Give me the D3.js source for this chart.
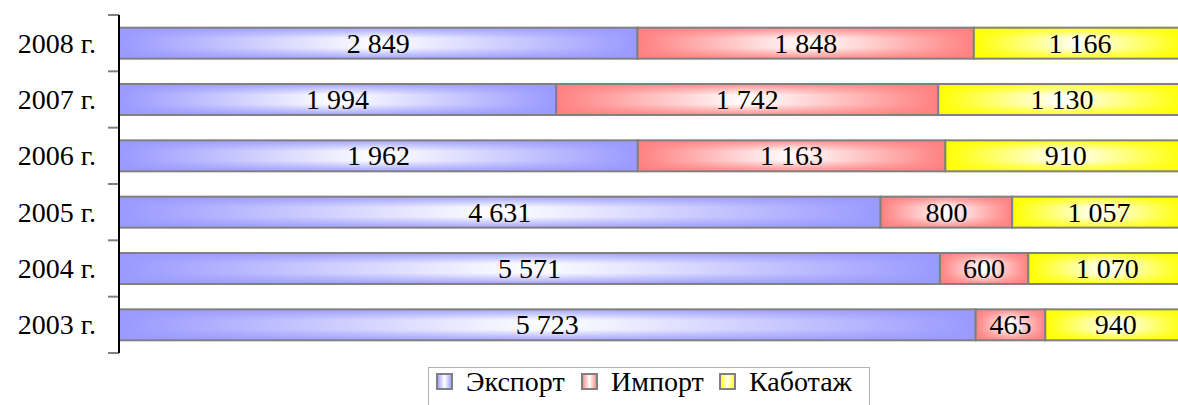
<!DOCTYPE html>
<html>
<head>
<meta charset="utf-8">
<script src="https://cdn.jsdelivr.net/npm/d3@7"></script>
</head>
<body style="margin:0; background:#fff; font-family:'Liberation Serif'">
<div id="chart" style="position:relative; width:1178px; height:405px; overflow:hidden; font-family:'Liberation Serif'; font-size:28px"></div>
<script>
'use strict';

let years = ['2008 г.', '2007 г.', '2006 г.', '2005 г.', '2004 г.', '2003 г.'];
let seriesNames = ['Экспорт', 'Импорт', 'Каботаж'];
let exportValues = [2849, 1994, 1962, 4631, 5571, 5723];
let importValues = [1848, 1742, 1163, 800, 600, 465];
let cabotageValues = [1166, 1130, 910, 1057, 1070, 940];
let seriesColors = ['#9999ff', '#ff8080', '#ffff00'];

let width = 1178;
let height = 405;
let labelStyle = "position:absolute; font-family:'Liberation Serif'; font-size:28px; white-space:nowrap; color:#000;";

let rows = years.map((y, i) => ({
    year: y,
    'Экспорт': exportValues[i],
    'Импорт': importValues[i],
    'Каботаж': cabotageValues[i]
}));

let chart = d3.select('#chart');
let svg = chart.append('svg')
    .attr('width', width)
    .attr('height', height)
    .style('position', 'absolute')
    .style('left', '0px')
    .style('top', '0px');

let defs = svg.append('defs');
seriesColors.forEach((c, i) => {
    let h = defs.append('linearGradient')
        .attr('id', 'gh' + i)
        .attr('x1', 0).attr('x2', 1).attr('y1', 0).attr('y2', 0);
    h.append('stop').attr('offset', '0%').attr('stop-color', c);
    h.append('stop').attr('offset', '50%').attr('stop-color', '#fff');
    h.append('stop').attr('offset', '100%').attr('stop-color', c);

    let v = defs.append('linearGradient')
        .attr('id', 'gv' + i)
        .attr('x1', 0).attr('x2', 0).attr('y1', 0).attr('y2', 1);
    v.append('stop').attr('offset', '0%').attr('stop-color', c).attr('stop-opacity', 0.9);
    v.append('stop').attr('offset', '35%').attr('stop-color', c).attr('stop-opacity', 0);
    v.append('stop').attr('offset', '65%').attr('stop-color', c).attr('stop-opacity', 0);
    v.append('stop').attr('offset', '100%').attr('stop-color', c).attr('stop-opacity', 0.9);
});

let x = d3.scaleLinear().domain([0, 1]).range([119, 1186]);
let y = d3.scaleBand().domain(years).range([15, 353]).paddingInner(0.45).paddingOuter(0.225);

let stacked = d3.stack().keys(seriesNames).offset(d3.stackOffsetExpand)(rows);

let ru = d3.formatLocale({ decimal: ',', thousands: '\u00a0', grouping: [3], currency: ['', ''] });
let fmt = ru.format(',d');

// bars + value labels
stacked.forEach((layer, si) => {
    let seg = svg.append('g').selectAll('g')
        .data(layer)
        .enter()
        .append('g');

    seg.append('rect')
        .attr('x', d => x(d[0]))
        .attr('y', d => y(d.data.year))
        .attr('width', d => x(d[1]) - x(d[0]))
        .attr('height', y.bandwidth())
        .attr('fill', 'url(#gh' + si + ')');

    seg.append('rect')
        .attr('x', d => x(d[0]))
        .attr('y', d => y(d.data.year))
        .attr('width', d => x(d[1]) - x(d[0]))
        .attr('height', y.bandwidth())
        .attr('fill', 'url(#gv' + si + ')')
        .attr('stroke', '#808080')
        .attr('stroke-width', 2);

    chart.selectAll(null)
        .data(layer)
        .enter()
        .append('div')
        .attr('style', d => labelStyle +
            'left:' + x(d[0]) + 'px; width:' + (x(d[1]) - x(d[0])) + 'px;' +
            'top:' + y(d.data.year) + 'px; height:' + y.bandwidth() + 'px;' +
            'line-height:' + y.bandwidth() + 'px; text-align:center;')
        .text(d => fmt(d.data[seriesNames[si]]));
});

// y axis
let boundaries = [15].concat(years.map(d => y(d) + y.step() * (1 - y.paddingInner() / 2)));
svg.append('g').selectAll('line')
    .data(boundaries)
    .enter()
    .append('line')
    .attr('x1', 108).attr('x2', 119)
    .attr('y1', d => d).attr('y2', d => d)
    .attr('stroke', '#808080')
    .attr('stroke-width', 2);

svg.append('line')
    .attr('x1', 119).attr('x2', 119)
    .attr('y1', 15).attr('y2', 353)
    .attr('stroke', '#000')
    .attr('stroke-width', 2);

chart.selectAll(null)
    .data(years)
    .enter()
    .append('div')
    .attr('style', d => labelStyle +
        'left:0px; width:96px; top:' + y(d) + 'px; height:' + y.bandwidth() + 'px;' +
        'line-height:' + y.bandwidth() + 'px; text-align:right;')
    .text(d => d);

// legend
svg.append('rect')
    .attr('x', 428.5).attr('y', 367.5)
    .attr('width', 441).attr('height', 50)
    .attr('fill', '#fff')
    .attr('stroke', '#b0b0b0');

let legendX = [437, 582, 720];
seriesNames.forEach((name, i) => {
    svg.append('rect')
        .attr('x', legendX[i]).attr('y', 374)
        .attr('width', 15).attr('height', 15)
        .attr('fill', 'url(#gh' + i + ')')
        .attr('stroke', '#808080')
        .attr('stroke-width', 2);
    chart.append('div')
        .attr('style', labelStyle + 'left:' + (legendX[i] + 29) + 'px; top:368px; line-height:28px;')
        .text(name);
});
</script>
</body>
</html>
